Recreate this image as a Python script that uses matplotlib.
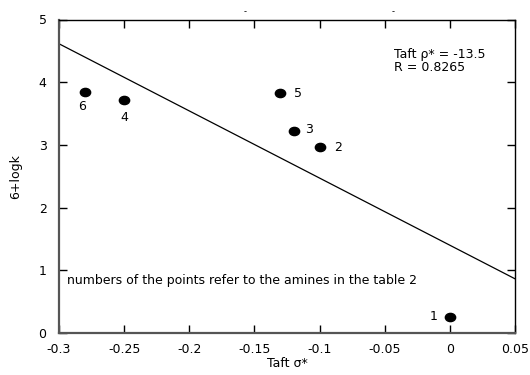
import numpy as np
import matplotlib
matplotlib.use('Agg')
import matplotlib.pyplot as plt
from matplotlib.path import Path
from matplotlib.markers import MarkerStyle
from matplotlib.ticker import FuncFormatter

plt.rcParams['font.family'] = ['DejaVu Sans']

# amines: Taft sigma* vs 6+log k
labels = ['1', '2', '3', '4', '5', '6']
sigma = [0.0, -0.10, -0.12, -0.25, -0.13, -0.28]
logk = [0.26, 2.96, 3.22, 3.72, 3.82, 3.85]
# label offsets in points
lab_dx = [-12, 13.5, 11, 0, 12.5, -2]
lab_dy = [0, 0, 1, -12.5, 0, -11]

# regression line drawn in the figure
fit_slope = -10.71
fit_icpt = 1.40
fit_x = [-0.3, 0.05]

xticks = [-0.3, -0.25, -0.2, -0.15, -0.1, -0.05, 0, 0.05]
yticks = [0, 1, 2, 3, 4, 5]

fs = 9

fig = plt.figure(figsize=(5.3, 3.75), dpi=100)
ax = fig.add_axes([59/530, 1-333/375, 456/530, 313.5/375])

fx = np.array(fit_x)
ax.plot(fx, fit_icpt + fit_slope*fx, color='black', lw=0.9)

circ = Path.unit_circle()
ell = Path(circ.vertices*np.array([1.25, 1.0]), circ.codes)
ax.scatter(sigma, logk, marker=MarkerStyle(ell), s=55, color='black', zorder=3)
for i in range(len(labels)):
    ax.annotate(labels[i], (sigma[i], logk[i]), xytext=(lab_dx[i], lab_dy[i]),
                textcoords='offset points', ha='center', va='center', fontsize=fs)

ax.text(0.735, 0.91, 'Taft \u03c1* = -13.5\nR = 0.8265', transform=ax.transAxes,
        fontsize=fs, va='top', ha='left', linespacing=1.05)
ax.text(-0.294, 0.83, 'numbers of the points refer to the amines in the table 2',
        fontsize=fs, va='center', ha='left')

# stray marks above the frame
fig.text(245/530, 1-12/375, '-', fontsize=6, ha='center', va='center')
fig.text(393/530, 1-12/375, '-', fontsize=6, ha='center', va='center')

ax.set_xlim(-0.3, 0.05)
ax.set_ylim(0, 5)
ax.set_xticks(xticks)
ax.set_yticks(yticks)
ax.xaxis.set_major_formatter(FuncFormatter(lambda v, p: '%g' % round(v, 3)))
ax.tick_params(direction='in', top=True, right=True, length=5.5, width=1,
               labelsize=fs, pad=7)
ax.tick_params(axis='y', pad=9)
for s in ['left', 'bottom']:
    ax.spines[s].set_color('#555555')
    ax.spines[s].set_linewidth(1.6)
for s in ['top', 'right']:
    ax.spines[s].set_color('black')
    ax.spines[s].set_linewidth(1.0)

ax.set_xlabel('Taft \u03c3*', fontsize=fs, labelpad=1)
ax.set_ylabel('6+logk', fontsize=fs, labelpad=12)

fig.savefig('out.png', dpi=100)
